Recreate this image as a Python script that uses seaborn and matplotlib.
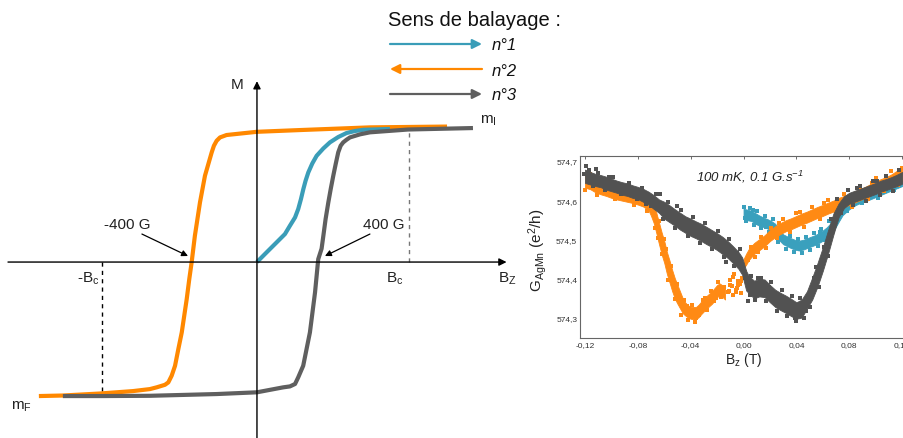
import matplotlib
matplotlib.use("Agg")
import pandas as pd
import seaborn as sns
import matplotlib.pyplot as plt

# ---------------------------------------------------------------
# Schematic hysteresis loop: field in gauss, magnetisation normalised
# ---------------------------------------------------------------
virgin_B = [0, 60, 123, 175, 206, 238, 258, 275, 290, 304, 321, 346, 373, 415, 456,
            508, 560, 613, 665, 831]
virgin_M = [0.0, 0.072, 0.147, 0.209, 0.271, 0.333, 0.396, 0.470, 0.545, 0.607, 0.669,
            0.736, 0.793, 0.848, 0.893, 0.933, 0.963, 0.978, 0.987, 0.993]

down_B = [1188, 706, 269, 0, -190, -231, -252, -269, -283, -304, -325, -356, -388,
          -408, -423, -439, -470, -491, -512, -533, -554, -575, -627, -669, -775, -981,
          -1213, -1363]
down_M = [1.011, 1.005, 0.985, 0.972, 0.948, 0.930, 0.905, 0.868, 0.818, 0.731, 0.644,
          0.446, 0.196, 0.0, -0.127, -0.276, -0.525, -0.647, -0.774, -0.848, -0.898,
          -0.916, -0.935, -0.948, -0.963, -0.981, -0.996, -1.0]

up_B = [-1213, -969, -669, -252, 0, 164, 206, 238, 258, 289, 331, 363, 383, 404, 415,
        429, 446, 461, 477, 492, 508, 523, 539, 560, 581, 644, 706, 944, 1350]
up_M = [-1.0, -1.0, -0.998, -0.985, -0.972, -0.935, -0.928, -0.910, -0.860, -0.774,
        -0.525, -0.226, 0.022, 0.100, 0.196, 0.321, 0.445, 0.545, 0.644, 0.731, 0.819,
        0.868, 0.893, 0.913, 0.930, 0.953, 0.968, 0.989, 1.0]

coercive_field = 400      # G
saturation_field = 950    # G

# ---------------------------------------------------------------
# Measured conductance, 100 mK, sweep 0.1 G/s  (B in tesla, G in e^2/h)
# each sweep: band (x, low, high) plus loose points around it
# ---------------------------------------------------------------
sweep1_x = [0.000, 0.003, 0.006, 0.009, 0.012, 0.015, 0.018, 0.021, 0.024, 0.027, 0.030,
            0.033, 0.036, 0.039, 0.042, 0.045, 0.048, 0.051, 0.054, 0.057, 0.060, 0.063,
            0.066, 0.069, 0.072, 0.075, 0.080, 0.085, 0.090, 0.095, 0.100, 0.105, 0.110,
            0.115, 0.120]
sweep1_lo = [574.552, 574.549, 574.547, 574.540, 574.535, 574.532, 574.528, 574.523,
             574.514, 574.498, 574.488, 574.483, 574.478, 574.474, 574.472, 574.474,
             574.478, 574.482, 574.486, 574.491, 574.497, 574.505, 574.514, 574.527,
             574.545, 574.562, 574.577, 574.588, 574.595, 574.601, 574.608, 574.615,
             574.622, 574.629, 574.636]
sweep1_hi = [574.578, 574.576, 574.573, 574.567, 574.561, 574.556, 574.552, 574.547,
             574.540, 574.524, 574.513, 574.508, 574.503, 574.499, 574.497, 574.499,
             574.503, 574.507, 574.511, 574.516, 574.523, 574.531, 574.542, 574.557,
             574.574, 574.588, 574.602, 574.612, 574.619, 574.625, 574.632, 574.639,
             574.646, 574.653, 574.660]
sweep1_px = [0.000, 0.002, 0.005, 0.008, 0.010, 0.013, 0.016, 0.019, 0.022, 0.026, 0.029,
             0.032, 0.035, 0.038, 0.041, 0.044, 0.047, 0.050, 0.053, 0.056, 0.059, 0.062,
             0.065, 0.068, 0.071, 0.078, 0.090, 0.102, 0.114, 0.001, 0.007, 0.011,
             0.017, 0.028, 0.034, 0.043, 0.049, 0.058, 0.064]
sweep1_py = [574.582, 574.547, 574.580, 574.536, 574.572, 574.529, 574.560, 574.520,
             574.552, 574.493, 574.522, 574.476, 574.510, 574.468, 574.502, 574.466,
             574.507, 574.474, 574.517, 574.483, 574.527, 574.498, 574.547, 574.523,
             574.577, 574.573, 574.594, 574.605, 574.626, 574.556, 574.576, 574.541,
             574.532, 574.514, 574.500, 574.476, 574.483, 574.519, 574.505]

sweep2_x = [-0.120, -0.116, -0.112, -0.108, -0.104, -0.100, -0.096, -0.092, -0.088, -0.084,
            -0.080, -0.076, -0.072, -0.070, -0.068, -0.066, -0.064, -0.062, -0.060, -0.058,
            -0.056, -0.054, -0.052, -0.050, -0.048, -0.046, -0.044, -0.042, -0.040, -0.038,
            -0.036, -0.034, -0.032, -0.030, -0.028, -0.026, -0.024, -0.022, -0.020, -0.018,
            -0.016, -0.014]
sweep2_lo = [574.632, 574.628, 574.620, 574.615, 574.611, 574.606, 574.602, 574.599,
             574.596, 574.593, 574.589, 574.584, 574.575, 574.560, 574.542, 574.516,
             574.488, 574.462, 574.440, 574.412, 574.390, 574.368, 574.349, 574.336,
             574.324, 574.312, 574.306, 574.301, 574.298, 574.297, 574.297, 574.302,
             574.310, 574.317, 574.324, 574.330, 574.336, 574.344, 574.353, 574.359,
             574.354, 574.347]
sweep2_hi = [574.664, 574.659, 574.651, 574.646, 574.641, 574.636, 574.632, 574.628,
             574.625, 574.622, 574.618, 574.613, 574.605, 574.596, 574.586, 574.568,
             574.543, 574.518, 574.496, 574.468, 574.446, 574.422, 574.401, 574.384,
             574.367, 574.350, 574.339, 574.332, 574.329, 574.328, 574.328, 574.334,
             574.342, 574.349, 574.356, 574.362, 574.368, 574.376, 574.384, 574.388,
             574.383, 574.374]
sweep2b_x = [0.000, 0.002, 0.004, 0.008, 0.012, 0.016, 0.020, 0.024, 0.028, 0.032, 0.036,
             0.040, 0.044, 0.048, 0.052, 0.056, 0.060, 0.064, 0.068, 0.072, 0.076, 0.080,
             0.084, 0.088, 0.092, 0.096, 0.100, 0.104, 0.108, 0.112, 0.116, 0.120]
sweep2b_lo = [574.426, 574.436, 574.448, 574.463, 574.473, 574.483, 574.496, 574.506,
              574.514, 574.521, 574.526, 574.532, 574.538, 574.543, 574.549, 574.555,
              574.560, 574.566, 574.571, 574.578, 574.583, 574.588, 574.594, 574.600,
              574.606, 574.613, 574.620, 574.626, 574.631, 574.638, 574.645, 574.650]
sweep2b_hi = [574.450, 574.464, 574.476, 574.491, 574.501, 574.511, 574.524, 574.534,
              574.542, 574.549, 574.554, 574.560, 574.566, 574.571, 574.577, 574.583,
              574.588, 574.594, 574.599, 574.606, 574.611, 574.616, 574.622, 574.628,
              574.634, 574.641, 574.648, 574.654, 574.659, 574.666, 574.675, 574.680]
sweep2_px = [-0.120, -0.116, -0.111, -0.104, -0.097, -0.090, -0.083, -0.078, -0.073,
             -0.069, -0.067, -0.064, -0.062, -0.059, -0.057, -0.055, -0.052, -0.050,
             -0.047, -0.045, -0.042, -0.039, -0.037, -0.034, -0.031, -0.028, -0.025,
             -0.022, -0.019, -0.017, -0.015, -0.011, -0.010, -0.009, -0.008, -0.007,
             -0.006, -0.005, -0.004, -0.003, -0.002, -0.001, 0.001, 0.003, 0.006, 0.009,
             0.013, 0.017, 0.021, 0.025, 0.030, 0.035, 0.040, 0.046, 0.052, 0.058, 0.064,
             0.070, 0.076, 0.082, 0.088, 0.094, 0.100, 0.106, 0.112, 0.117, 0.120,
             -0.010, -0.008, -0.006, -0.004, -0.002, -0.012, -0.118, -0.108, -0.094,
             -0.086, -0.075, -0.065, -0.060, -0.053, -0.043, -0.036, -0.029, -0.021,
             0.011, 0.027, 0.043, 0.061, 0.079, 0.097, 0.114]
sweep2_py = [574.627, 574.667, 574.613, 574.645, 574.602, 574.632, 574.588, 574.619,
             574.573, 574.597, 574.528, 574.547, 574.463, 574.477, 574.398, 574.432,
             574.348, 574.387, 574.308, 574.347, 574.296, 574.332, 574.291, 574.307,
             574.347, 574.320, 574.370, 574.343, 574.392, 574.354, 574.380, 574.370,
             574.397, 574.382, 574.358, 574.412, 574.366, 574.377, 574.394, 574.386,
             574.363, 574.402, 574.417, 574.447, 574.482, 574.456, 574.507, 574.478,
             574.530, 574.503, 574.552, 574.520, 574.567, 574.533, 574.584, 574.553,
             574.600, 574.568, 574.617, 574.583, 574.634, 574.603, 574.657, 574.623,
             574.674, 574.638, 574.682, 574.385, 574.405, 574.372, 574.383, 574.394,
             574.366, 574.660, 574.650, 574.629, 574.623, 574.612, 574.505, 574.500,
             574.380, 574.330, 574.300, 574.352, 574.351, 574.468, 574.541, 574.570,
             574.592, 574.605, 574.645, 574.660]

sweep3_x = [-0.120, -0.116, -0.112, -0.108, -0.104, -0.100, -0.096, -0.092, -0.088, -0.084,
            -0.080, -0.076, -0.072, -0.068, -0.064, -0.060, -0.056, -0.052, -0.048, -0.044,
            -0.040, -0.036, -0.032, -0.028, -0.024, -0.020, -0.016, -0.012, -0.008, -0.004,
            -0.001, 0.002, 0.004, 0.008, 0.012, 0.016, 0.020, 0.024, 0.028, 0.032, 0.036,
            0.040, 0.044, 0.048, 0.052, 0.056, 0.060, 0.064, 0.068, 0.072, 0.076, 0.080,
            0.084, 0.088, 0.092, 0.096, 0.100, 0.104, 0.108, 0.112, 0.116, 0.120]
sweep3_lo = [574.644, 574.640, 574.636, 574.633, 574.627, 574.623, 574.619, 574.614,
             574.611, 574.606, 574.603, 574.596, 574.589, 574.578, 574.568, 574.553,
             574.544, 574.535, 574.525, 574.517, 574.509, 574.503, 574.496, 574.488,
             574.481, 574.473, 574.463, 574.453, 574.440, 574.426, 574.410, 574.370,
             574.363, 574.350, 574.355, 574.353, 574.340, 574.328, 574.320, 574.313,
             574.305, 574.298, 574.301, 574.324, 574.347, 574.380, 574.420, 574.464,
             574.512, 574.557, 574.580, 574.591, 574.596, 574.601, 574.606, 574.611,
             574.616, 574.622, 574.626, 574.631, 574.636, 574.642]
sweep3_hi = [574.678, 574.672, 574.667, 574.664, 574.660, 574.655, 574.650, 574.646,
             574.643, 574.638, 574.634, 574.629, 574.622, 574.613, 574.602, 574.596,
             574.587, 574.577, 574.568, 574.559, 574.553, 574.546, 574.540, 574.532,
             574.524, 574.516, 574.507, 574.496, 574.483, 574.469, 574.454, 574.420,
             574.407, 574.395, 574.400, 574.398, 574.384, 574.372, 574.364, 574.357,
             574.349, 574.340, 574.347, 574.368, 574.403, 574.440, 574.480, 574.524,
             574.566, 574.592, 574.610, 574.619, 574.624, 574.629, 574.634, 574.639,
             574.644, 574.650, 574.654, 574.659, 574.665, 574.672]
sweep3_px = [-0.119, -0.117, -0.114, -0.110, -0.105, -0.099, -0.093, -0.087, -0.081,
             -0.077, -0.070, -0.066, -0.061, -0.057, -0.052, -0.047, -0.042, -0.038,
             -0.033, -0.029, -0.024, -0.019, -0.015, -0.011, -0.007, -0.003, 0.001,
             0.003, 0.006, 0.009, 0.013, 0.017, 0.021, 0.025, 0.029, 0.033, 0.037,
             0.040, 0.043, 0.046, 0.050, 0.053, 0.057, 0.061, 0.064, 0.068, 0.071,
             0.074, 0.079, 0.083, 0.088, 0.093, 0.098, 0.103, 0.108, 0.113, 0.118,
             -0.121, -0.112, -0.102, -0.090, -0.074, -0.063, -0.050, -0.036, -0.026,
             -0.013, -0.005, 0.005, 0.011, 0.019, 0.031, 0.039, 0.047, 0.055, 0.066,
             0.086, 0.101, 0.116]
sweep3_py = [574.687, 574.678, 574.637, 574.670, 574.626, 574.658, 574.615, 574.645,
             574.603, 574.632, 574.586, 574.617, 574.552, 574.596, 574.529, 574.576,
             574.509, 574.558, 574.492, 574.541, 574.476, 574.521, 574.456, 574.501,
             574.432, 574.476, 574.403, 574.344, 574.408, 574.346, 574.401, 574.342,
             574.391, 574.319, 574.371, 574.304, 574.356, 574.292, 574.351, 574.299,
             574.328, 574.402, 574.378, 574.482, 574.458, 574.522, 574.602, 574.568,
             574.627, 574.588, 574.637, 574.598, 574.650, 574.613, 574.662, 574.623,
             574.677, 574.668, 574.680, 574.660, 574.630, 574.590, 574.615, 574.585,
             574.510, 574.520, 574.442, 574.465, 574.358, 574.402, 574.380, 574.330,
             574.300, 574.318, 574.430, 574.552, 574.630, 574.650, 574.645]

x_ticks = [-0.12, -0.08, -0.04, 0.00, 0.04, 0.08, 0.12]
x_tick_labels = ["-0,12", "-0,08", "-0,04", "0,00", "0,04", "0,08", "0,12"]
y_ticks = [574.3, 574.4, 574.5, 574.6, 574.7]
y_tick_labels = ["574,3", "574,4", "574,5", "574,6", "574,7"]

sweep_names = ["n°1", "n°2", "n°3"]

# ---------------------------------------------------------------
sns.set_theme(style="white")
plt.rcParams["font.family"] = ["Liberation Sans", "DejaVu Sans"]
plt.rcParams["mathtext.fontset"] = "custom"
plt.rcParams["mathtext.rm"] = "Liberation Sans"
plt.rcParams["mathtext.it"] = "Liberation Sans:italic"
plt.rcParams["mathtext.default"] = "regular"

ORANGE = "#ff8800"
TEAL = "#3a9db8"
GREY = "#5f5f5f"
P_ORANGE = "#ff8a14"
P_TEAL = "#3aa0bd"
P_GREY = "#525252"

W, H = 904, 439
fig = plt.figure(figsize=(W / 100, H / 100), dpi=100)

# ---------------- left: schematic loop ----------------
axl = fig.add_axes([0, 0, 520 / W, 1])
axl.set_xlim(-1606, 1644)
axl.set_ylim(-1.313, 1.963)
axl.axis("off")

arrow_kw = dict(arrowstyle="-|>", color="black", lw=1.0, mutation_scale=11,
                shrinkA=0, shrinkB=0)
axl.annotate("", xy=(1560, 0), xytext=(-1556, 0), arrowprops=arrow_kw, zorder=4)
axl.annotate("", xy=(0, 1.35), xytext=(0, -1.32), arrowprops=arrow_kw, zorder=4)

loop_df = pd.concat([
    pd.DataFrame({"B": virgin_B, "M": virgin_M, "sweep": sweep_names[0]}),
    pd.DataFrame({"B": down_B, "M": down_M, "sweep": sweep_names[1]}),
    pd.DataFrame({"B": up_B, "M": up_M, "sweep": sweep_names[2]}),
])
for name, col in zip(["n°2", "n°1", "n°3"], [ORANGE, TEAL, GREY]):
    sns.lineplot(data=loop_df[loop_df["sweep"] == name], x="B", y="M", sort=False,
                 estimator=None, color=col, lw=3.0, ax=axl, legend=False, zorder=3,
                 solid_capstyle="butt", solid_joinstyle="round")

# saturation markers
axl.plot([saturation_field, saturation_field], [0, 0.99], ls=(0, (3, 3)),
         color="#777777", lw=1.0, zorder=2)
axl.plot([-saturation_field - 20, -saturation_field - 20], [0, -0.99], ls=(0, (3, 3)),
         color="black", lw=1.0, zorder=2)

txt = dict(fontsize=11, color="#222222", ha="center", va="center")
axl.text(-125, 1.33, "M", **txt)
axl.text(-812, 0.284, f"-{coercive_field} G", **txt)
axl.text(794, 0.284, f"{coercive_field} G", **txt)
thin = dict(arrowstyle="-|>", color="black", lw=0.9, mutation_scale=9,
            shrinkA=0, shrinkB=0)
axl.annotate("", xy=(-431, 0.045), xytext=(-719, 0.209), arrowprops=thin)
axl.annotate("", xy=(425, 0.045), xytext=(706, 0.209), arrowprops=thin)
axl.text(-1056, -0.12, "-B$_c$", **txt)
axl.text(862, -0.12, "B$_c$", **txt)
axl.text(1565, -0.12, "B$_Z$", **txt)
axl.text(-1469, -1.075, "m$_F$", **txt)
axl.text(1444, 1.06, "m$_I$", **txt)

# ---------------- sweep key ----------------
axk = fig.add_axes([0, 0, 1, 1])
axk.set_xlim(0, W)
axk.set_ylim(H, 0)
axk.axis("off")
axk.patch.set_alpha(0)
axk.text(475, 20, "Sens de balayage :", fontsize=14.5, ha="center", va="center",
         color="#111111")
key_kw = dict(lw=1.6, mutation_scale=14, shrinkA=0, shrinkB=0)
for yy, col, forward, name in zip([45, 70, 95], [TEAL, ORANGE, GREY],
                                  [True, False, True], sweep_names):
    a, b = (390, 482) if forward else (482, 390)
    axk.annotate("", xy=(b, yy), xytext=(a, yy),
                 arrowprops=dict(arrowstyle="-|>", color=col, **key_kw))
    axk.text(492, yy + 1, name, fontsize=12, style="italic", ha="left", va="center",
             color="#111111")

# ---------------- right: measured conductance ----------------
axr = fig.add_axes([580 / W, (H - 339) / H, 328 / W, 182 / H])
axr.set_xlim(-0.1238, 0.1245)
axr.set_ylim(574.249, 574.7127)


def sweep(xs, lo, hi, px, py, col):
    axr.fill_between(xs, lo, hi, color=col, lw=0.6, edgecolor=col)
    sns.scatterplot(x=px, y=py, color=col, marker="s", s=6, linewidth=0, ax=axr,
                    legend=False)


sweep(sweep1_x, sweep1_lo, sweep1_hi, sweep1_px, sweep1_py, P_TEAL)
axr.fill_between(sweep2b_x, sweep2b_lo, sweep2b_hi, color=P_ORANGE, lw=0.6,
                 edgecolor=P_ORANGE)
sweep(sweep2_x, sweep2_lo, sweep2_hi, sweep2_px, sweep2_py, P_ORANGE)
sweep(sweep3_x, sweep3_lo, sweep3_hi, sweep3_px, sweep3_py, P_GREY)

axr.set_xticks(x_ticks)
axr.set_xticklabels(x_tick_labels)
axr.set_yticks(y_ticks)
axr.set_yticklabels(y_tick_labels)
axr.tick_params(direction="in", length=2.5, width=0.6, labelsize=6,
                labelcolor="#333333", color="#555555", top=True, right=True, pad=2)
for sp in axr.spines.values():
    sp.set_color("#666666")
    sp.set_linewidth(0.8)

axr.set_xlabel("B$_z$ (T)", fontsize=10, color="#222222")
axr.set_ylabel("G$_{AgMn}$ (e$^2$/h)", fontsize=11, color="#222222")
axr.xaxis.set_label_coords(0.5, -0.065)
axr.yaxis.set_label_coords(-0.094, 0.49)
axr.text(0.518, 0.89, "100 mK, 0.1 G.s$^{-1}$", transform=axr.transAxes,
         fontsize=9.5, style="italic", ha="center", va="center", color="#222222")

fig.savefig("out.png", dpi=100)
